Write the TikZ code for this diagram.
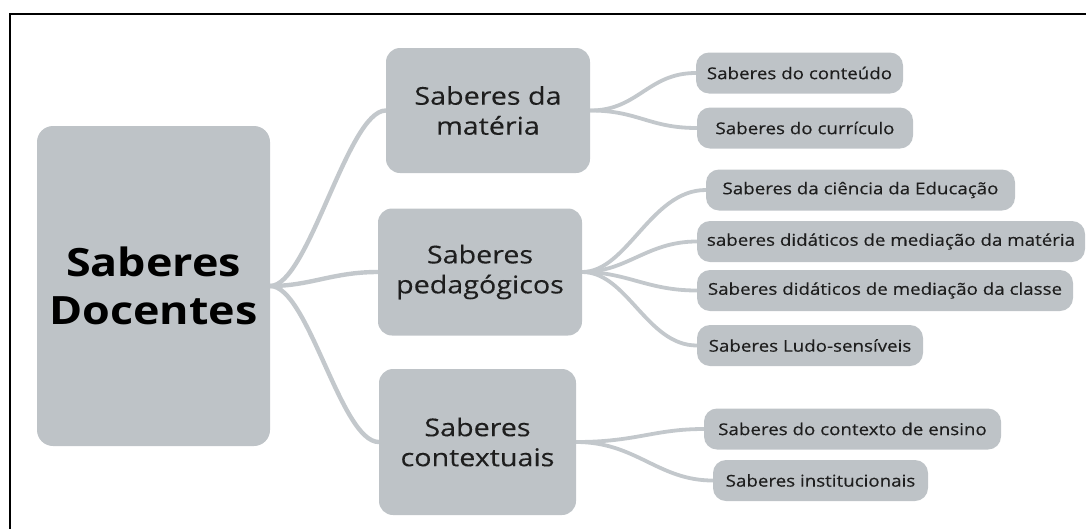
\documentclass[tikz,border=0pt]{standalone}
\usepackage{fontspec}
\setmainfont{Open Sans}[FakeStretch=1.15]
\newfontfamily\leaffont{Open Sans}[FakeStretch=1.15, FakeBold=0.35]
\newfontfamily\midfont{Open Sans}[FakeStretch=1.17, FakeBold=0.2]
\usetikzlibrary{backgrounds}
\definecolor{boxgray}{HTML}{BEC3C7}
\definecolor{linegray}{HTML}{C3C8CC}
\definecolor{txtdark}{HTML}{1E1E1E}
\tikzset{
  rootbox/.style={fill=boxgray, rounded corners=16pt, inner sep=0pt, align=center,
    font=\fontsize{39}{48}\selectfont\bfseries, text=black},
  midbox/.style={fill=boxgray, rounded corners=14pt, inner sep=0pt, align=center,
    font=\midfont\fontsize{24.5}{30}\selectfont, text=txtdark},
  leafbox/.style={fill=boxgray, rounded corners=13pt, inner sep=0pt, minimum height=41pt,
    font=\leaffont\fontsize{16.3}{20}\selectfont, text=txtdark},
  trunk/.style={draw=linegray, line width=4.4pt, line cap=round},
  twig/.style={draw=linegray, line width=3.8pt, line cap=round}
}
\begin{document}
\begin{tikzpicture}[x=1pt,y=-1pt]
\useasboundingbox (0,0) rectangle (1086,528);
\clip (0,0) rectangle (1086,528);
\draw[line width=2.5pt, black] (10,14) rectangle (1110,560);

% root
\node[rootbox, minimum width=233pt, minimum height=320pt] (root) at (153.5,286) {Saberes\\Docentes};

% mid level
\node[midbox, minimum width=204pt, minimum height=125pt] (mat) at (488,110.5) {Saberes da\\matéria};
\node[midbox, minimum width=204pt, minimum height=127pt] (ped) at (480,272) {Saberes\\pedagógicos};
\node[midbox, minimum width=197pt, minimum height=146pt] (ctx) at (477.5,442) {Saberes\\contextuais};

% leaves
\node[leafbox, minimum width=207pt] (l1) at (799.5,73) {Saberes do conteúdo};
\node[leafbox, minimum width=216pt] (l2) at (805,128) {Saberes do currículo};
\node[leafbox, minimum width=309pt] (l3) at (860.5,190) {Saberes da ciência da Educação};
\node[leafbox, minimum width=388pt] (l4) at (891,241.5) {saberes didáticos de mediação da matéria};
\node[leafbox, minimum width=376pt] (l5) at (885,290.5) {Saberes didáticos de mediação da classe};
\node[leafbox, minimum width=226pt] (l6) at (810,345.5) {Saberes Ludo-sensíveis};
\node[leafbox, minimum width=297pt] (l7) at (852.5,429) {Saberes do contexto de ensino};
\node[leafbox, minimum width=215pt] (l8) at (820.5,480.5) {Saberes institucionais};

\begin{scope}[on background layer]
% root to mid
\draw[trunk] (root.east) .. controls +(38,0) and +(-38,0) .. (mat.west);
\draw[trunk] (root.east) .. controls +(40,0) and +(-45,0) .. (ped.west);
\draw[trunk] (root.east) .. controls +(38,0) and +(-38,0) .. (ctx.west);
% mid to leaves
\draw[twig] (mat.east) .. controls +(48,0) and +(-48,0) .. (l1.west);
\draw[twig] (mat.east) .. controls +(48,0) and +(-48,0) .. (l2.west);
\draw[twig] (ped.east) .. controls +(45,0) and +(-55,0) .. (l3.west);
\draw[twig] (ped.east) .. controls +(45,0) and +(-50,0) .. (l4.west);
\draw[twig] (ped.east) .. controls +(45,0) and +(-50,0) .. (l5.west);
\draw[twig] (ped.east) .. controls +(45,0) and +(-50,0) .. (l6.west);
\draw[twig] (ctx.east) .. controls +(60,0) and +(-50,0) .. (l7.west);
\draw[twig] (ctx.east) .. controls +(60,0) and +(-55,0) .. (l8.west);
\end{scope}
\end{tikzpicture}
\end{document}
